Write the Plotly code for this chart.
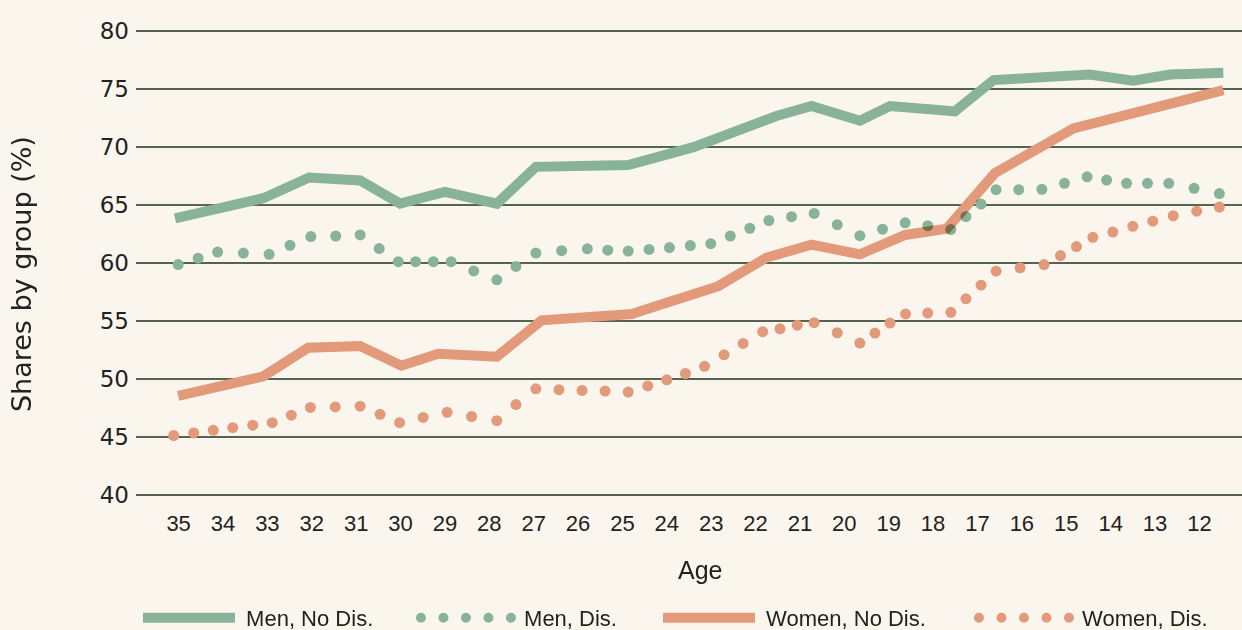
"""Shares by group across ages: men/women, with and without disability."""

import plotly.graph_objects as go

# ---- data ----
age_ticks = list(range(35, 11, -1))
y_ticks = [40, 45, 50, 55, 60, 65, 70, 75, 80]

men_nodis_age = [35.08, 33.09, 32.06, 30.91, 30.01, 29.00, 27.83, 26.95, 24.87,
                 23.40, 21.53, 20.74, 19.65, 18.97, 17.51, 16.64, 14.47, 13.49,
                 12.66, 11.46]
men_nodis = [63.86, 65.59, 67.38, 67.13, 65.12, 66.14, 65.12, 68.30, 68.46,
             70.00, 72.69, 73.55, 72.28, 73.55, 73.09, 75.79, 76.27, 75.73,
             76.27, 76.42]

women_nodis_age = [35.01, 33.09, 32.08, 30.91, 29.98, 29.15, 27.83, 26.82, 24.79,
                   22.84, 21.75, 20.74, 19.65, 18.63, 17.69, 16.61, 14.84, 11.46]
women_nodis = [48.53, 50.22, 52.69, 52.84, 51.14, 52.16, 51.91, 55.05, 55.60,
               58.00, 60.47, 61.58, 60.75, 62.42, 62.97, 67.75, 71.61, 74.92]

men_dis_age = [35.01, 34.56, 34.12, 33.54, 32.96, 32.49, 32.02, 31.46, 30.91,
               30.48, 30.05, 29.66, 29.26, 28.86, 28.35, 27.83, 27.40, 26.95,
               26.37, 25.79, 25.33, 24.87, 24.40, 23.94, 23.47, 23.01, 22.57,
               22.13, 21.70, 21.19, 20.68, 20.16, 19.65, 19.14, 18.63, 18.12,
               17.60, 17.26, 16.92, 16.58, 16.07, 15.55, 15.04, 14.53, 14.09,
               13.64, 13.17, 12.69, 12.12, 11.55]
men_dis = [59.86, 60.42, 60.94, 60.86, 60.75, 61.53, 62.28, 62.33, 62.42,
           61.25, 60.11, 60.11, 60.11, 60.11, 59.32, 58.55, 59.70, 60.86,
           61.06, 61.22, 61.11, 61.03, 61.17, 61.33, 61.50, 61.67, 62.33,
           63.00, 63.67, 64.00, 64.28, 63.31, 62.36, 62.92, 63.47, 63.22,
           62.89, 64.00, 65.09, 66.33, 66.33, 66.36, 66.88, 67.44, 67.16,
           66.88, 66.88, 66.88, 66.45, 65.99]

women_dis_age = [35.11, 34.66, 34.22, 33.78, 33.33, 32.89, 32.46, 32.03, 31.47,
                 30.91, 30.46, 30.02, 29.49, 28.95, 28.40, 27.83, 27.40, 26.95,
                 26.43, 25.91, 25.39, 24.87, 24.43, 24.00, 23.58, 23.15, 22.71,
                 22.28, 21.84, 21.45, 21.06, 20.68, 20.16, 19.65, 19.31, 18.97,
                 18.62, 18.12, 17.60, 17.26, 16.92, 16.58, 16.04, 15.50, 15.13,
                 14.77, 14.40, 13.95, 13.50, 13.05, 12.59, 12.06, 11.55]
women_dis = [45.11, 45.33, 45.56, 45.78, 46.00, 46.22, 46.86, 47.53, 47.58,
             47.64, 46.94, 46.22, 46.67, 47.11, 46.75, 46.39, 47.78, 49.14,
             49.06, 49.00, 48.94, 48.86, 49.39, 49.92, 50.46, 51.08, 52.07,
             53.06, 54.07, 54.32, 54.63, 54.85, 53.98, 53.09, 53.95, 54.81,
             55.60, 55.68, 55.74, 56.91, 58.09, 59.29, 59.59, 59.86, 60.64,
             61.42, 62.22, 62.67, 63.17, 63.61, 64.08, 64.47, 64.83]

GREEN = "#88b398"
ORANGE = "#e29a7b"
BG = "#faf6ee"
TEXT = "#222222"
SANS = "Liberation Sans, Arial, sans-serif"
NBSP = "\u00a0"

fig = go.Figure()

# solid lines
fig.add_trace(go.Scatter(
    x=men_nodis_age, y=men_nodis, mode="lines", name=NBSP + "Men, No Dis.",
    line=dict(color=GREEN, width=10), legend="legend",
))
fig.add_trace(go.Scatter(
    x=women_nodis_age, y=women_nodis, mode="lines", name=NBSP + "Women, No Dis.",
    line=dict(color=ORANGE, width=10), legend="legend3",
))

# dotted series drawn as dots
fig.add_trace(go.Scatter(
    x=men_dis_age, y=men_dis, mode="markers", showlegend=False,
    marker=dict(color=GREEN, size=11, line=dict(width=0)),
))
fig.add_trace(go.Scatter(
    x=women_dis_age, y=women_dis, mode="markers", showlegend=False,
    marker=dict(color=ORANGE, size=11, line=dict(width=0)),
))

# legend entries for the dotted series
fig.add_trace(go.Scatter(
    x=[None], y=[None], mode="lines", name=NBSP + "Men, Dis.",
    line=dict(color=GREEN, width=10, dash="1px,21.5px"), legend="legend2",
))
fig.add_trace(go.Scatter(
    x=[None], y=[None], mode="lines", name=NBSP + "Women, Dis.",
    line=dict(color=ORANGE, width=10, dash="1px,21.5px"), legend="legend4",
))

fig.add_annotation(
    text="Age", xref="paper", yref="paper", x=0.51, y=-0.156,
    xanchor="center", yanchor="middle", showarrow=False,
    font=dict(family=SANS, size=25, color=TEXT),
)
fig.add_annotation(
    text="Shares by group (%)", xref="paper", yref="paper", x=-0.103, y=0.4765,
    xanchor="center", yanchor="middle", textangle=-90, showarrow=False,
    font=dict(family="DejaVu Sans, sans-serif", size=27, color=TEXT),
)

legend_style = dict(
    orientation="h", xref="container", yref="container",
    xanchor="left", y=0.019, yanchor="middle",
    itemwidth=92, font=dict(family=SANS, size=22, color=TEXT),
    bgcolor="rgba(0,0,0,0)",
)

fig.update_layout(
    width=1242, height=630,
    margin=dict(l=136, r=0, t=29, b=133, autoexpand=False),
    paper_bgcolor=BG, plot_bgcolor=BG,
    font=dict(family=SANS, color=TEXT),
    xaxis=dict(
        range=[35.96, 11.04], tickvals=age_ticks,
        ticktext=[str(a) for a in age_ticks],
        showgrid=False, zeroline=False, showline=False,
        ticks="", ticklabelstandoff=11,
        tickfont=dict(family=SANS, size=22, color=TEXT),
    ),
    yaxis=dict(
        range=[39.8, 80.2], tickvals=y_ticks,
        showgrid=True, gridcolor="#58634f", gridwidth=1.5,
        zeroline=False, showline=False, ticks="", ticklabelstandoff=6,
        tickfont=dict(family="DejaVu Sans, sans-serif", size=23, color=TEXT),
    ),
    legend=dict(x=0.1111, **legend_style),
    legend2=dict(x=0.3349, **legend_style),
    legend3=dict(x=0.5298, **legend_style),
    legend4=dict(x=0.7842, **legend_style),
    showlegend=True,
)

post = """
document.body.style.margin = '0';
document.body.style.overflow = 'hidden';
var gd = document.querySelector('.plotly-graph-div');
function fixDots(){
  document.querySelectorAll('.legendlines path').forEach(function(p){
    var d = p.style.strokeDasharray;
    if(d && d !== 'none'){
      p.style.strokeLinecap = 'round';
      p.style.strokeDasharray = '0px,22.5px';
    }
  });
  document.querySelectorAll('.scatterlayer .trace').forEach(function(t){
    t.style.mixBlendMode = 'multiply';
  });
}
fixDots();
if(gd && gd.on){ gd.on('plotly_afterplot', fixDots); }
"""

fig.write_html("out.html", post_script=post, config={"displayModeBar": False})
